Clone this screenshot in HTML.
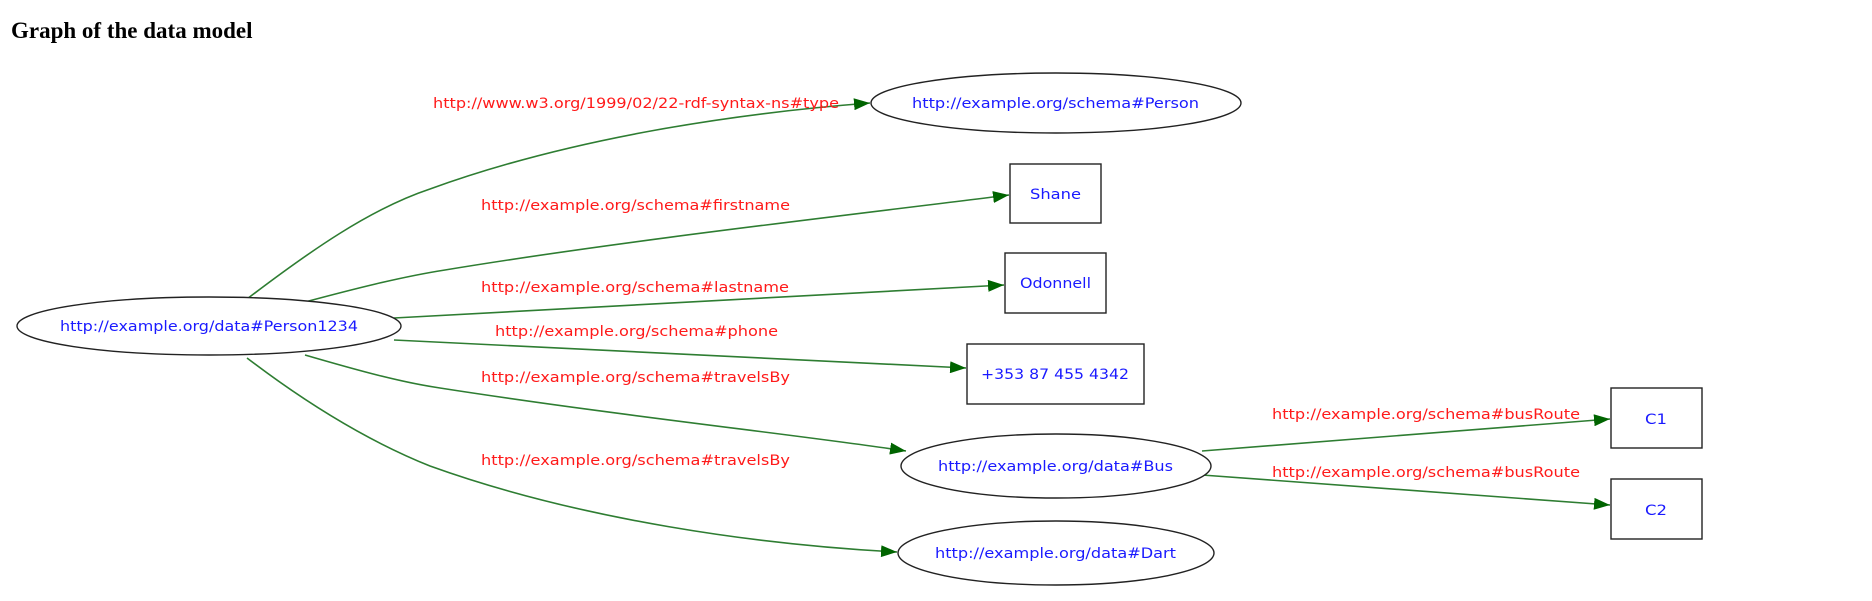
<!DOCTYPE html>
<html><head><meta charset="utf-8"><style>
html,body{margin:0;padding:0;background:#fff;width:1872px;height:601px;overflow:hidden}
h1{position:absolute;left:11px;top:18px;margin:0;font:bold 23px "Liberation Serif",serif;color:#000}
svg{position:absolute;left:0;top:0}
.e{fill:none;stroke:#2e7d32;stroke-width:1.6}
.n{fill:#fff;stroke:#222;stroke-width:1.4}
.l{font-family:"DejaVu Sans","Liberation Sans",sans-serif;font-size:14px;fill:#ff1a1a}
.t{font-family:"DejaVu Sans","Liberation Sans",sans-serif;font-size:14px;fill:#1a1aff}
</style></head><body>
<h1>Graph of the data model</h1>
<svg width="1872" height="601" viewBox="0 0 1872 601">
<defs><marker id="a" markerWidth="16" markerHeight="12" refX="16" refY="6" orient="auto" markerUnits="userSpaceOnUse"><path d="M0,0 L16,6 L0,12 z" fill="#006400"/></marker></defs>
<path class="e" marker-end="url(#a)" d="M247,299 C310,251 370,209 430,189 C573,137 740,113 870,103"/>
<path class="e" marker-end="url(#a)" d="M305,302 C350,290 400,277 445,270 C620,241 850,215 1009,195"/>
<path class="e" marker-end="url(#a)" d="M394,318 L1004,285"/>
<path class="e" marker-end="url(#a)" d="M394,340 L966,368"/>
<path class="e" marker-end="url(#a)" d="M305,355 C360,371 400,382 440,388 C620,416 800,435 906,451"/>
<path class="e" marker-end="url(#a)" d="M247,358 C310,406 370,442 430,466 C580,520 760,545 897,552"/>
<path class="e" marker-end="url(#a)" d="M1202,451 L1610,419"/>
<path class="e" marker-end="url(#a)" d="M1202,475 L1610,505"/>
<ellipse class="n" cx="209" cy="326" rx="192" ry="29"/>
<ellipse class="n" cx="1056" cy="103" rx="185" ry="30"/>
<ellipse class="n" cx="1056" cy="466" rx="155" ry="32"/>
<ellipse class="n" cx="1056" cy="553" rx="158" ry="32"/>
<rect class="n" x="1010" y="164" width="91" height="59"/>
<rect class="n" x="1005" y="253" width="101" height="60"/>
<rect class="n" x="967" y="344" width="177" height="60"/>
<rect class="n" x="1611" y="388" width="91" height="60"/>
<rect class="n" x="1611" y="479" width="91" height="60"/>
<text class="l" x="433" y="108" textLength="406" lengthAdjust="spacingAndGlyphs">http://www.w3.org/1999/02/22-rdf-syntax-ns#type</text>
<text class="l" x="481" y="210" textLength="309" lengthAdjust="spacingAndGlyphs">http://example.org/schema#firstname</text>
<text class="l" x="481" y="292" textLength="308" lengthAdjust="spacingAndGlyphs">http://example.org/schema#lastname</text>
<text class="l" x="495" y="336" textLength="283" lengthAdjust="spacingAndGlyphs">http://example.org/schema#phone</text>
<text class="l" x="481" y="382" textLength="309" lengthAdjust="spacingAndGlyphs">http://example.org/schema#travelsBy</text>
<text class="l" x="481" y="465" textLength="309" lengthAdjust="spacingAndGlyphs">http://example.org/schema#travelsBy</text>
<text class="l" x="1272" y="419" textLength="308" lengthAdjust="spacingAndGlyphs">http://example.org/schema#busRoute</text>
<text class="l" x="1272" y="477" textLength="308" lengthAdjust="spacingAndGlyphs">http://example.org/schema#busRoute</text>
<text class="t" x="60" y="331" textLength="298" lengthAdjust="spacingAndGlyphs">http://example.org/data#Person1234</text>
<text class="t" x="912" y="108" textLength="287" lengthAdjust="spacingAndGlyphs">http://example.org/schema#Person</text>
<text class="t" x="1030" y="199" textLength="51" lengthAdjust="spacingAndGlyphs">Shane</text>
<text class="t" x="1020" y="288" textLength="71" lengthAdjust="spacingAndGlyphs">Odonnell</text>
<text class="t" x="981" y="379" textLength="148" lengthAdjust="spacingAndGlyphs">+353 87 455 4342</text>
<text class="t" x="938" y="471" textLength="235" lengthAdjust="spacingAndGlyphs">http://example.org/data#Bus</text>
<text class="t" x="935" y="558" textLength="241" lengthAdjust="spacingAndGlyphs">http://example.org/data#Dart</text>
<text class="t" x="1645" y="424" textLength="22" lengthAdjust="spacingAndGlyphs">C1</text>
<text class="t" x="1645" y="515" textLength="22" lengthAdjust="spacingAndGlyphs">C2</text>
</svg>
</body></html>
